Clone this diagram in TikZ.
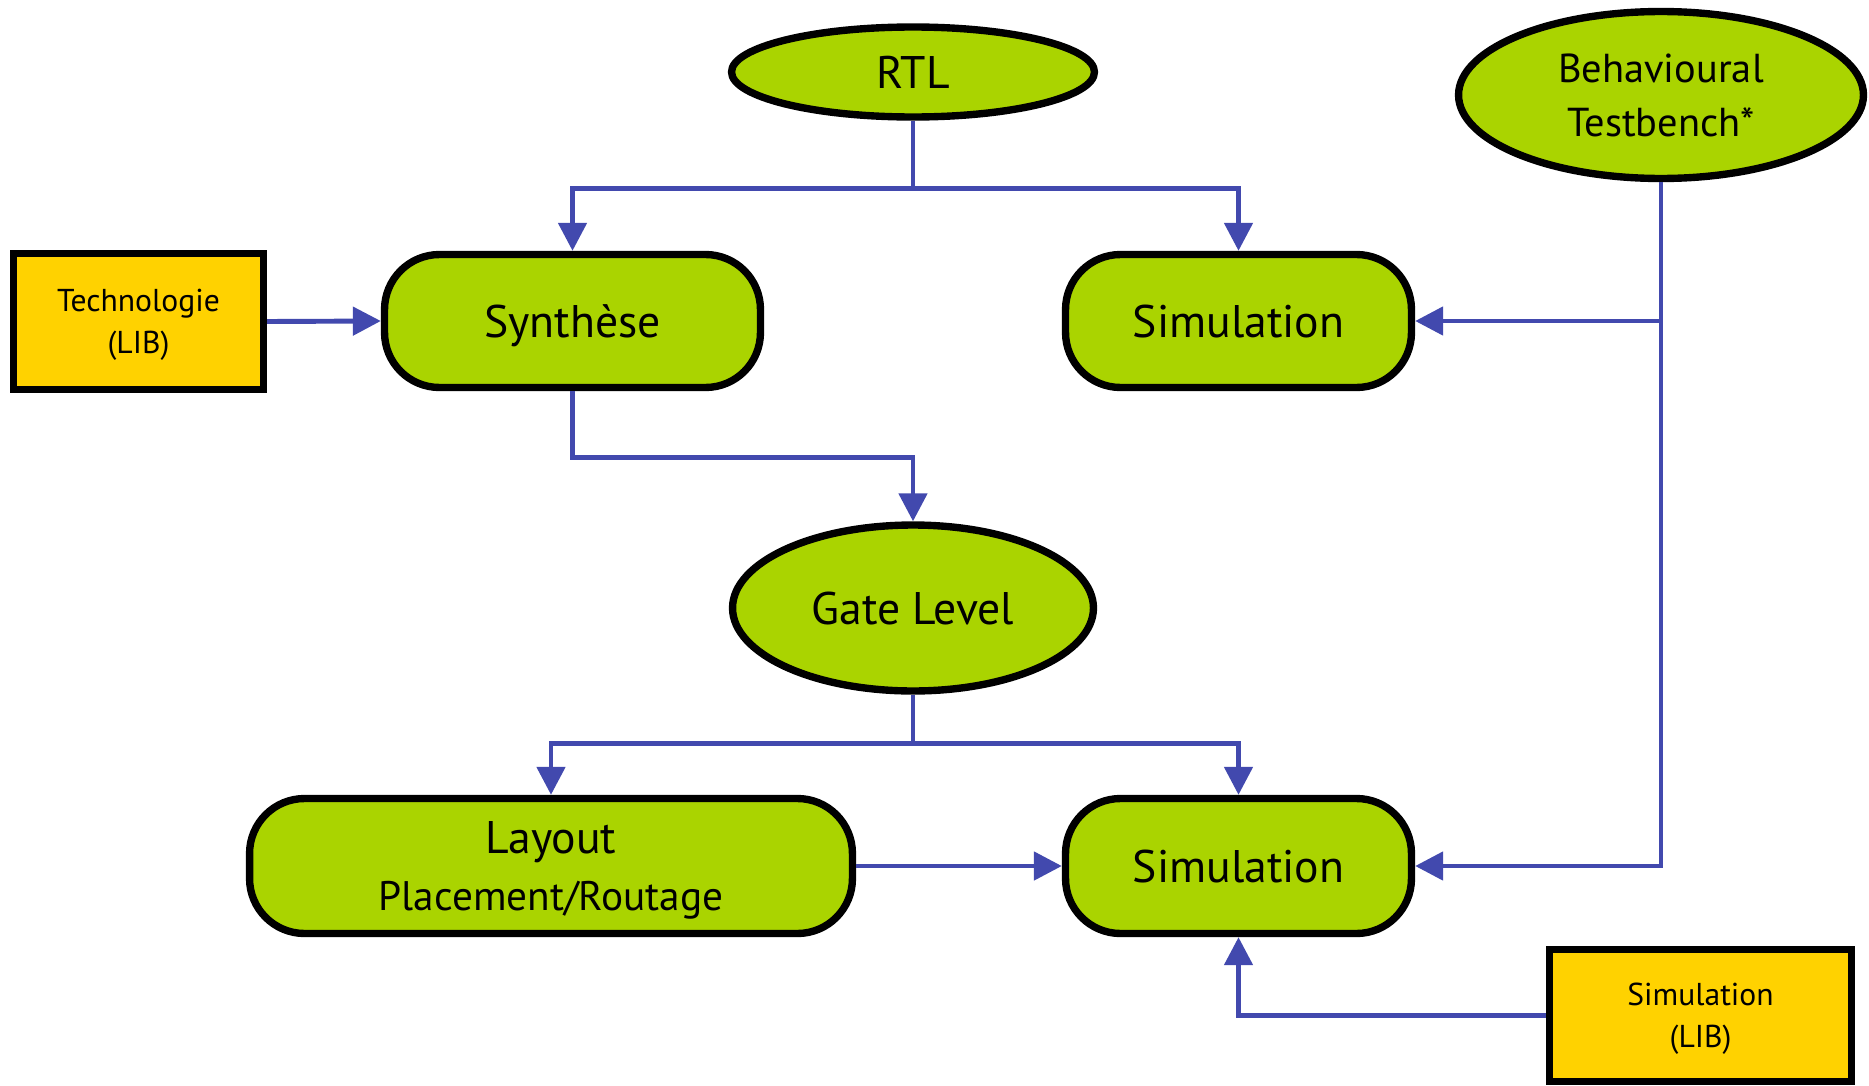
\documentclass[tikz,border=0pt]{standalone}
\usepackage{fontspec}
\setmainfont{PT Sans}
\usetikzlibrary{arrows.meta,positioning,shapes.geometric,calc}
\definecolor{leaf}{HTML}{AAD400}
\definecolor{gold}{HTML}{FFD200}
\definecolor{wire}{HTML}{4249AE}

\begin{document}
\begin{tikzpicture}[
  x=0.02cm, y=-0.02cm,
  stepbox/.style={draw=black, fill=leaf, line width=4.2pt, rounded corners=1.1cm, minimum height=2.66cm, align=center, font=\fontsize{26}{30}\selectfont, inner sep=0pt, text depth=0pt},
  level/.style={ellipse, draw=black, fill=leaf, line width=4.2pt, align=center, font=\fontsize{26}{30}\selectfont, inner sep=0pt, text depth=0pt},
  lib/.style={rectangle, draw=black, fill=gold, line width=4.2pt, align=center, font=\fontsize{18}{24}\selectfont, inner sep=0pt, text depth=0pt},
  arr/.style={-{Triangle[length=0.56cm, width=0.56cm]}, line width=2.8pt, color=wire},
]
\useasboundingbox (0,0) rectangle (1869,1085);

\node[level, minimum width=7.26cm, minimum height=1.8cm] (rtl) at (913, 72) {RTL};
\node[level, minimum width=8.1cm, minimum height=3.34cm, font=\fontsize{23}{31}\selectfont] (tb) at (1661, 95) {Behavioural\\Testbench*};

\node[lib, minimum width=5.0cm, minimum height=2.72cm] (tech) at (138.5, 321.5) {Technologie\\(LIB)};
\node[stepbox, minimum width=7.52cm] (synth) at (572.5, 321) {Synthèse};
\node[stepbox, minimum width=6.92cm] (simrtl) at (1238.5, 321) {Simulation};

\node[level, minimum width=7.22cm, minimum height=3.32cm] (gate) at (913, 608) {Gate Level};

\node[stepbox, minimum width=12.06cm, minimum height=2.7cm] (layout) at (551, 866) {Layout\\[3pt]{\fontsize{23.5}{26}\selectfont Placement/Routage}};
\node[stepbox, minimum width=6.92cm, minimum height=2.7cm] (simgate) at (1238.5, 866) {Simulation};
\node[lib, minimum width=6.04cm, minimum height=2.64cm] (simlib) at (1700.5, 1015.5) {Simulation\\(LIB)};

\draw[arr] (rtl.south) -- ++(0,68) -| (synth.north);
\draw[arr] (rtl.south) -- ++(0,68) -| (simrtl.north);
\draw[arr] (tech.east) -- (synth.west);
\draw[arr] (tb.south) |- (simrtl.east);
\draw[arr] (tb.south) |- (simgate.east);
\draw[arr] (synth.south) -- ++(0,66) -| (gate.north);
\draw[arr] (gate.south) -- ++(0,49) -| (layout.north);
\draw[arr] (gate.south) -- ++(0,49) -| (simgate.north);
\draw[arr] (layout.east) -- (simgate.west);
\draw[arr] (simlib.west) -| (simgate.south);

\end{tikzpicture}
\end{document}
